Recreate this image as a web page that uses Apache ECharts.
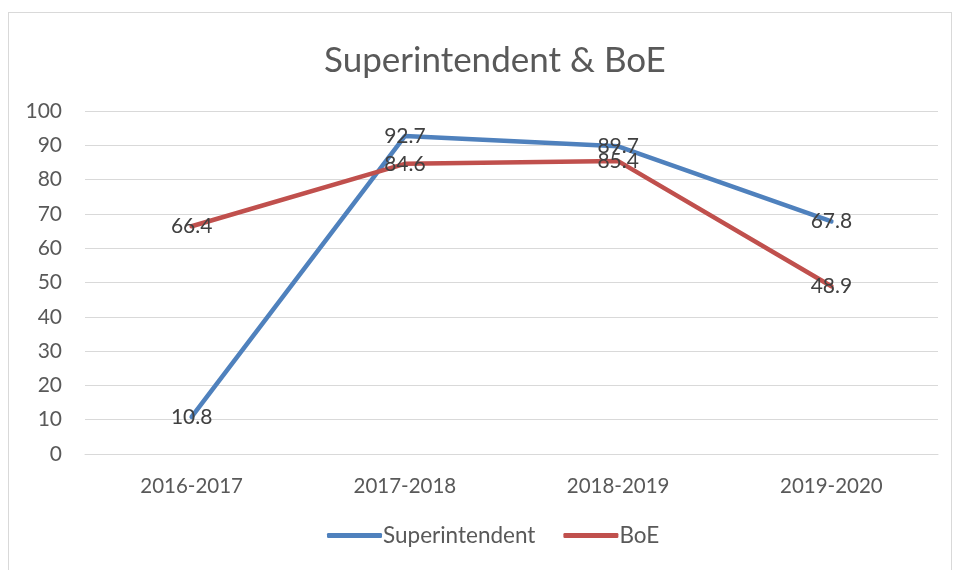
<!DOCTYPE html>
<html>
<head>
<meta charset="utf-8">
<script src="https://cdn.jsdelivr.net/npm/echarts@6/dist/echarts.min.js"></script>
<style>
  html, body { margin: 0; padding: 0; background: #fff; }
  #chart { width: 953px; height: 570px; }
  #frame { position: absolute; left: 8px; top: 12px; width: 942px; height: 570px; border: 1px solid #d9d9d9; pointer-events: none; }
</style>
</head>
<body>
<div id="chart"></div>
<div id="frame"></div>
<script>
// chart data
const years = ['2016-2017', '2017-2018', '2018-2019', '2019-2020']
const superintendent = [10.8, 92.7, 89.7, 67.8]
const boe = [66.4, 84.6, 85.4, 48.9]
const colors = ['#4f81bd', '#c0504d']
const font = 'Lato, "Open Sans", sans-serif'

const chart = echarts.init(document.getElementById('chart'))

const mkSeries = (name, data, color) => ({
    name: name,
    type: 'line',
    data: data,
    symbol: 'circle',
    symbolSize: 0,
    showSymbol: true,
    lineStyle: { color: color, width: 4.5, cap: 'round' },
    itemStyle: { color: color },
    label: {
        show: true,
        position: 'inside',
        color: '#404040',
        fontSize: 21,
        fontFamily: font
    },
    z: 3
})

chart.setOption({
    backgroundColor: '#fff',
    animation: false,
    title: {
        text: 'Superintendent & BoE',
        left: 319,
        top: 38,
        textStyle: { color: '#595959', fontSize: 35, fontWeight: 'normal', fontFamily: font }
    },
    legend: {
        bottom: 18,
        left: 322,
        itemWidth: 55,
        itemHeight: 5,
        itemGap: 28,
        icon: 'roundRect',
        textStyle: { color: '#595959', fontSize: 22.5, fontFamily: font, padding: [0, 0, 0, -4] },
        data: ['Superintendent', 'BoE']
    },
    grid: { left: 85, right: 15, top: 111, bottom: 116 },
    xAxis: {
        type: 'category',
        data: years,
        boundaryGap: true,
        axisLine: { show: true, lineStyle: { color: '#d9d9d9' } },
        axisTick: { show: false },
        axisLabel: { color: '#595959', fontSize: 20.5, fontFamily: font, margin: 22 }
    },
    yAxis: {
        type: 'value',
        min: 0,
        max: 100,
        interval: 10,
        axisLine: { show: false },
        axisTick: { show: false },
        splitLine: { lineStyle: { color: '#d9d9d9', width: 1.2 } },
        axisLabel: { color: '#595959', fontSize: 21, fontFamily: font, margin: 23 }
    },
    series: [
        mkSeries('Superintendent', superintendent, colors[0]),
        mkSeries('BoE', boe, colors[1])
    ]
})
</script>
</body>
</html>
